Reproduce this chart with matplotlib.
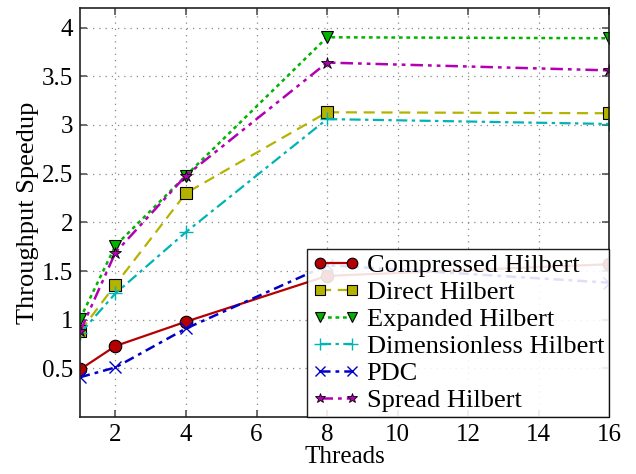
import matplotlib
matplotlib.use("Agg")
import matplotlib.pyplot as plt

plt.rcParams['font.family'] = ['Liberation Serif', 'DejaVu Serif']
plt.rcParams['mathtext.fontset'] = 'stix'

threads = [1, 2, 4, 8, 16]

compressed = [0.49, 0.73, 0.98, 1.45, 1.57]
direct = [0.88, 1.36, 2.30, 3.13, 3.12]
expanded = [1.01, 1.76, 2.48, 3.90, 3.89]
dimensionless = [0.86, 1.27, 1.90, 3.06, 3.01]
pdc = [0.41, 0.51, 0.91, 1.56, 1.38]
spread = [0.88, 1.69, 2.48, 3.64, 3.56]

names = ["Compressed Hilbert", "Direct Hilbert", "Expanded Hilbert",
         "Dimensionless Hilbert", "PDC", "Spread Hilbert"]

fig = plt.figure(figsize=(6.36, 4.74), dpi=100)
ax = fig.add_axes([0.126, 0.120, 0.832, 0.863])

ax.plot(threads, compressed, color='#b40000', ls='-', lw=1.6, marker='o',
        ms=9, mec='k', mew=0.8, label=names[0])
ax.plot(threads, direct, color='#b4b400', ls=(0, (5, 3)), lw=1.6, marker='s',
        ms=9, mec='k', mew=0.8, label=names[1])
ax.plot(threads, expanded, color='#00b400', ls=(0, (1.5, 1.5)), lw=1.8, marker='v',
        ms=9, mec='k', mew=0.8, label=names[2])
ax.plot(threads, dimensionless, color='#00b4b4', ls=(0, (5, 2, 1.5, 2)), lw=1.6,
        marker='+', ms=10, mew=1.0, label=names[3])
ax.plot(threads, pdc, color='#0000c8', ls=(0, (4, 2, 1.5, 2)), lw=1.8, marker='x',
        ms=9, mew=1.0, label=names[4])
ax.plot(threads, spread, color='#b400b4', ls=(0, (5, 2, 1.5, 2, 1.5, 2)), lw=1.8,
        marker='*', ms=9, mec='k', mew=0.6, label=names[5])

ax.set_xlim(1, 16)
ax.set_ylim(0, 4.2)
ax.set_xticks([2, 4, 6, 8, 10, 12, 14, 16])
ax.set_yticks([0.5, 1, 1.5, 2, 2.5, 3, 3.5, 4])
ax.set_yticklabels(["0.5", "1", "1.5", "2", "2.5", "3", "3.5", "4"])
ax.tick_params(direction='in', top=True, right=True, labelsize=18, length=5,
               width=1.2, color='#555555', pad=5)
ax.grid(True, ls=(0, (1, 4)), color='#888888', lw=0.9)
for s in ax.spines.values():
    s.set_linewidth(1.2)
    s.set_color('#222222')

ax.set_xlabel("Threads", fontsize=18, labelpad=0)
ax.set_ylabel("Throughput Speedup", fontsize=19, labelpad=2)

leg = ax.legend(loc='lower right', borderaxespad=0, fancybox=False, edgecolor='k',
                framealpha=0.88, fontsize=19, numpoints=2, handlelength=1.8,
                handletextpad=0.25, labelspacing=0.13, borderpad=0.2,
                markerscale=0.85)
leg.get_frame().set_linewidth(1.0)

fig.savefig("out.png", dpi=100)
